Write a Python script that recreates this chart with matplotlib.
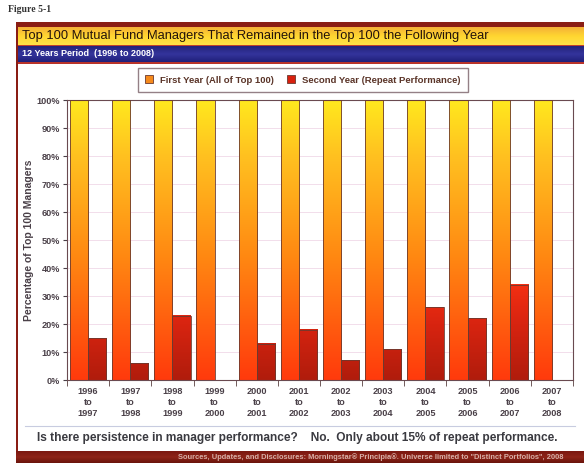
import numpy as np
import matplotlib.pyplot as plt
from matplotlib.colors import LinearSegmentedColormap
from matplotlib.patches import Rectangle

periods = ["1996\nto\n1997", "1997\nto\n1998", "1998\nto\n1999", "1999\nto\n2000",
           "2000\nto\n2001", "2001\nto\n2002", "2002\nto\n2003", "2003\nto\n2004",
           "2004\nto\n2005", "2005\nto\n2006", "2006\nto\n2007", "2007\nto\n2008"]
first_year = [100, 100, 100, 100, 100, 100, 100, 100, 100, 100, 100, 100]
second_year = [15, 6, 23, 0, 13, 18, 7, 11, 26, 22, 34, 0]

W, H = 584, 463
fig = plt.figure(figsize=(W / 100, H / 100), dpi=100)
fig.patch.set_facecolor("white")
plt.rcParams["font.family"] = ["Liberation Sans", "DejaVu Sans"]

def px(x0, y0, x1, y1):
    # pixel box -> figure fraction rect (left, bottom, width, height)
    return (x0 / W, 1 - y1 / H, (x1 - x0) / W, (y1 - y0) / H)

def band(x0, y0, x1, y1, color, z=0.2):
    l, b, w, h = px(x0, y0, x1, y1)
    fig.patches.append(Rectangle((l, b), w, h, transform=fig.transFigure,
                                 facecolor=color, edgecolor="none", zorder=z))

def grad_band(x0, y0, x1, y1, colors):
    bg = fig.add_axes(px(x0, y0, x1, y1))
    bg.axis("off")
    cm = LinearSegmentedColormap.from_list("g", colors)
    bg.imshow(np.linspace(0, 1, 64)[:, None], aspect="auto", cmap=cm,
              extent=[0, 1, 0, 1], origin="upper")
    bg.set_zorder(1)
    return bg

fig.text(8 / W, 1 - 10 / H, "Figure 5-1", fontsize=7, fontweight="bold",
         family=["Liberation Serif", "DejaVu Serif"], color="#333333", va="center")

# frame: dark red border, header bands, footer band
band(16, 22, 584, 463, "#8a1d14", z=0.1)
band(18, 27, 584, 461, "white", z=0.2)
grad_band(18, 27, 584, 45, ["#f4b038", "#ffd630", "#ffe248"])
grad_band(18, 46, 584, 62, ["#23237a", "#34349c", "#20207a"])
band(18, 45, 584, 46, "#c0402a", z=0.3)
band(18, 62, 584, 64, "#b8332a", z=0.3)
grad_band(16, 451, 584, 463, ["#7a1810", "#8e2418", "#6a140c"])

fig.text(22 / W, 1 - 36 / H, "Top 100 Mutual Fund Managers That Remained in the Top 100 the Following Year",
         fontsize=9.3, color="#24120a", va="center", ha="left")
fig.text(22 / W, 1 - 54 / H, "12 Years Period  (1996 to 2008)", fontsize=6.5,
         fontweight="bold", color="white", va="center", ha="left")

# chart area
ax = fig.add_axes(px(67, 100, 573, 380))
ax.set_zorder(2)
n = len(periods)
x = np.arange(n)
bw = 0.43

first_cmap = LinearSegmentedColormap.from_list(
    "first", [(0, "#ff3a0c"), (0.45, "#ff8a12"), (0.8, "#ffc020"), (1, "#ffe81e")])
second_cmap = LinearSegmentedColormap.from_list(
    "second", [(0, "#b01c0c"), (0.5, "#d82410"), (1, "#ff3414")])

def grad_bar(xc, h, cmap, vmax):
    if h <= 0:
        return
    grad = np.linspace(0, h, 128)[:, None] / vmax
    ax.imshow(grad, cmap=cmap, vmin=0, vmax=1, aspect="auto", origin="lower",
              extent=[xc - bw / 2, xc + bw / 2, 0, h], zorder=2)
    ax.add_patch(Rectangle((xc - bw / 2, 0), bw, h, fill=False,
                           edgecolor="#6a3a30", linewidth=0.6, zorder=3))

for i in range(n):
    grad_bar(x[i] - bw / 2, first_year[i], first_cmap, 100)
    grad_bar(x[i] + bw / 2, second_year[i], second_cmap, 40)

ax.set_xlim(-0.5, n - 0.5)
ax.set_ylim(0, 100)
ax.set_yticks(np.arange(0, 101, 10))
ax.set_yticklabels([f"{v}%" for v in range(0, 101, 10)])
ax.set_xticks(x)
ax.set_xticklabels(periods, fontsize=6.6, fontweight="bold", color="#4a4048",
                   linespacing=1.3)
ax.set_xticks(np.arange(-0.5, n, 1), minor=True)
ax.tick_params(axis="x", which="major", length=0, pad=5)
ax.tick_params(axis="x", which="minor", length=4, color="#5a4040", direction="out")
ax.tick_params(axis="y", labelsize=6.6, colors="#4a4048", length=3, pad=2)
for lab in ax.get_yticklabels():
    lab.set_fontweight("bold")
ax.yaxis.grid(True, color="#f0d8e8", linewidth=0.6)
ax.set_axisbelow(True)
for s in ax.spines.values():
    s.set_color("#6a4a50")
    s.set_linewidth(0.8)
ax.set_ylabel("Percentage of Top 100 Managers", fontsize=7.5, fontweight="bold",
              color="#4a4048", labelpad=2)

# legend
h1 = Rectangle((0, 0), 1, 1, facecolor="#f58a1c", edgecolor="#6a3a30", linewidth=0.6)
h2 = Rectangle((0, 0), 1, 1, facecolor="#d8200e", edgecolor="#6a3a30", linewidth=0.6)
leg = fig.legend([h1, h2], ["First Year (All of Top 100)", "Second Year (Repeat Performance)"],
                 loc="center", bbox_to_anchor=(303 / W, 1 - 80 / H), ncol=2,
                 fontsize=6.8, frameon=True, fancybox=False, handlelength=0.8,
                 handleheight=0.9, columnspacing=1.4, borderpad=0.8, handletextpad=0.8)
leg.get_frame().set_edgecolor("#7a6068")
leg.get_frame().set_linewidth(1.0)
for t in leg.get_texts():
    t.set_color("#5a3428")
    t.set_fontweight("bold")

# separator and takeaway
fig.add_artist(plt.Line2D([25 / W, 575 / W], [1 - 426 / H, 1 - 426 / H],
                          transform=fig.transFigure, color="#c8cce0", linewidth=0.8))
fig.text(297 / W, 1 - 438 / H,
         "Is there persistence in manager performance?    No.  Only about 15% of repeat performance.",
         fontsize=8.6, fontweight="bold", color="#3a3a40", ha="center", va="center")
fig.text(178 / W, 1 - 457 / H,
         "Sources, Updates, and Disclosures: Morningstar\u00ae Principia\u00ae. Universe limited to \"Distinct Portfolios\", 2008",
         fontsize=5.4, fontweight="bold", color="#d8b0a8", ha="left", va="center", zorder=5)

fig.savefig("out.png", dpi=100)
